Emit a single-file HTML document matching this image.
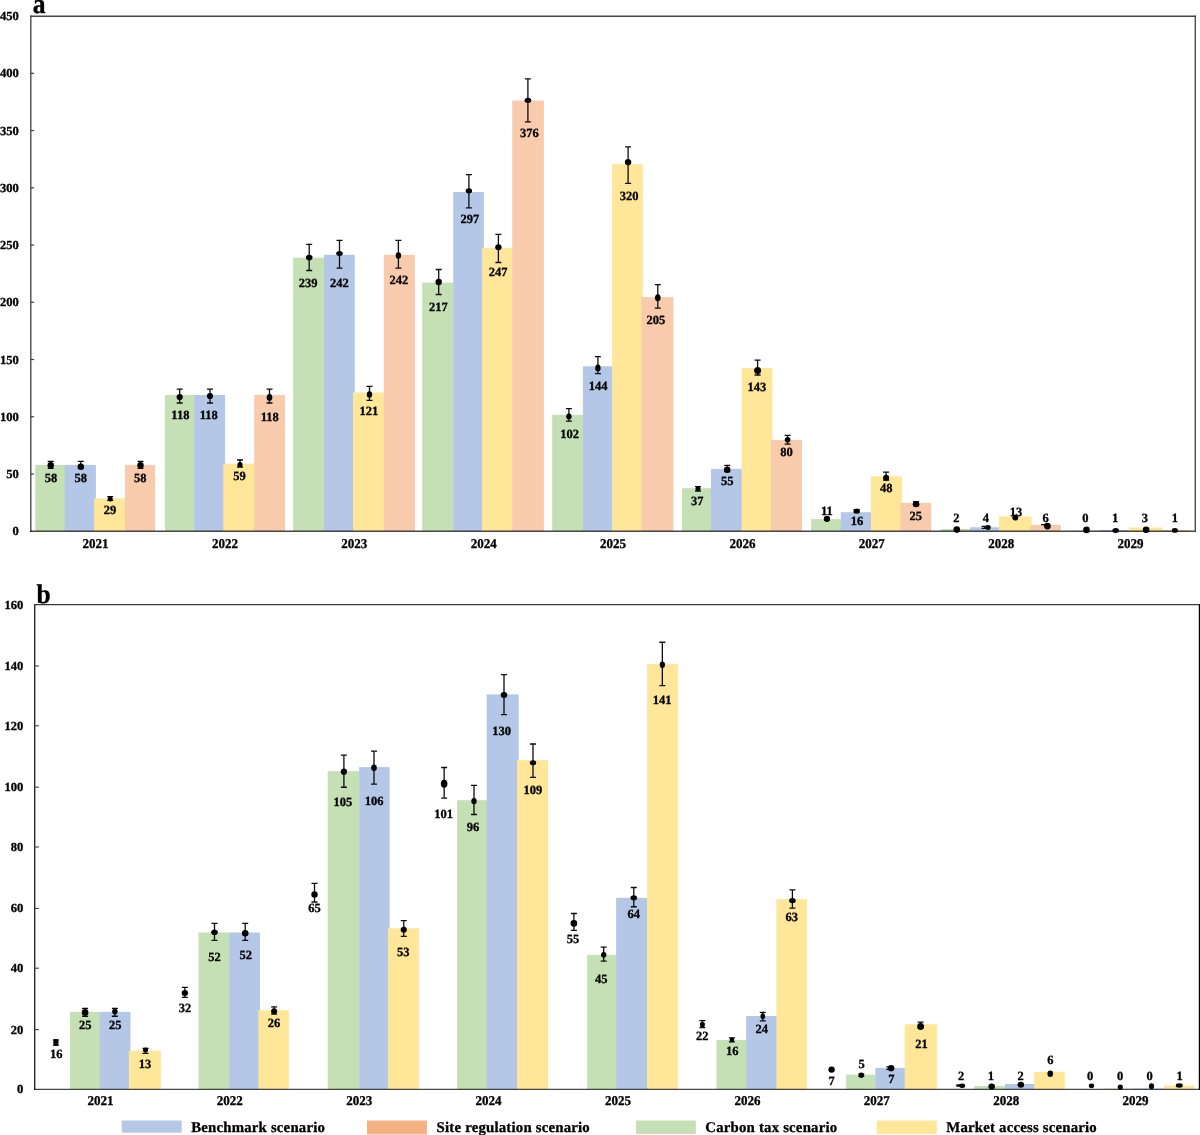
<!DOCTYPE html>
<html><head><meta charset="utf-8"><title>chart</title>
<style>
html,body{margin:0;padding:0;background:#fff;}
body{width:1200px;height:1135px;overflow:hidden;font-family:"Liberation Serif",serif;}
svg{display:block;will-change:transform;}
svg text{text-rendering:geometricPrecision;}
</style></head><body>
<svg width="1200" height="1135" viewBox="0 0 1200 1135" font-family="'Liberation Serif', serif" font-weight="bold" fill="#000" stroke="#000" stroke-width="0.3" stroke-linejoin="round">
<rect width="1200" height="1135" fill="#fff" stroke="none"/>
<rect x="35.30" y="464.90" width="29.70" height="66.10" fill="#C5E0B4" stroke="none"/>
<rect x="64.70" y="464.90" width="31.20" height="66.10" fill="#B4C7E7" stroke="none"/>
<rect x="94.10" y="498.40" width="32.40" height="32.60" fill="#FFE699" stroke="none"/>
<rect x="125.00" y="464.90" width="30.10" height="66.10" fill="#F8CBAD" stroke="none"/>
<rect x="165.00" y="395.00" width="29.50" height="136.00" fill="#C5E0B4" stroke="none"/>
<rect x="194.20" y="395.00" width="30.90" height="136.00" fill="#B4C7E7" stroke="none"/>
<rect x="223.30" y="463.70" width="32.40" height="67.30" fill="#FFE699" stroke="none"/>
<rect x="254.20" y="395.00" width="30.80" height="136.00" fill="#F8CBAD" stroke="none"/>
<rect x="293.10" y="257.70" width="31.20" height="273.30" fill="#C5E0B4" stroke="none"/>
<rect x="324.00" y="254.80" width="30.80" height="276.20" fill="#B4C7E7" stroke="none"/>
<rect x="353.00" y="392.50" width="32.30" height="138.50" fill="#FFE699" stroke="none"/>
<rect x="383.80" y="254.80" width="31.10" height="276.20" fill="#F8CBAD" stroke="none"/>
<rect x="422.20" y="282.60" width="31.30" height="248.40" fill="#C5E0B4" stroke="none"/>
<rect x="453.20" y="192.00" width="30.70" height="339.00" fill="#B4C7E7" stroke="none"/>
<rect x="482.10" y="247.90" width="31.60" height="283.10" fill="#FFE699" stroke="none"/>
<rect x="512.20" y="100.60" width="31.70" height="430.40" fill="#F8CBAD" stroke="none"/>
<rect x="552.20" y="414.80" width="31.00" height="116.20" fill="#C5E0B4" stroke="none"/>
<rect x="582.90" y="366.30" width="31.00" height="164.70" fill="#B4C7E7" stroke="none"/>
<rect x="612.10" y="164.20" width="30.70" height="366.80" fill="#FFE699" stroke="none"/>
<rect x="641.30" y="297.10" width="32.10" height="233.90" fill="#F8CBAD" stroke="none"/>
<rect x="682.00" y="488.20" width="29.20" height="42.80" fill="#C5E0B4" stroke="none"/>
<rect x="710.90" y="468.90" width="32.50" height="62.10" fill="#B4C7E7" stroke="none"/>
<rect x="741.60" y="368.00" width="30.80" height="163.00" fill="#FFE699" stroke="none"/>
<rect x="770.90" y="440.00" width="31.00" height="91.00" fill="#F8CBAD" stroke="none"/>
<rect x="811.10" y="519.10" width="30.00" height="11.90" fill="#C5E0B4" stroke="none"/>
<rect x="840.80" y="512.20" width="31.90" height="18.80" fill="#B4C7E7" stroke="none"/>
<rect x="870.90" y="476.25" width="31.00" height="54.75" fill="#FFE699" stroke="none"/>
<rect x="900.40" y="502.85" width="30.80" height="28.15" fill="#F8CBAD" stroke="none"/>
<rect x="941.10" y="529.00" width="29.20" height="2.00" fill="#C5E0B4" stroke="none"/>
<rect x="970.00" y="527.25" width="30.70" height="3.75" fill="#B4C7E7" stroke="none"/>
<rect x="998.90" y="516.50" width="32.70" height="14.50" fill="#FFE699" stroke="none"/>
<rect x="1030.10" y="524.90" width="30.70" height="6.10" fill="#F8CBAD" stroke="none"/>
<rect x="1070.40" y="530.60" width="29.00" height="0.40" fill="#C5E0B4" stroke="none"/>
<rect x="1099.10" y="530.00" width="31.50" height="1.00" fill="#B4C7E7" stroke="none"/>
<rect x="1128.80" y="527.50" width="33.60" height="3.50" fill="#FFE699" stroke="none"/>
<rect x="1160.90" y="530.00" width="29.50" height="1.00" fill="#F8CBAD" stroke="none"/>
<path d="M30.8 15.6V532" stroke="#4c4c4c" stroke-width="1.4" fill="none"/>
<path d="M30.1 531.3H1196" stroke="#000" stroke-opacity="0.72" stroke-width="1.4" fill="none"/>
<path d="M30.1 16.3H1196" stroke="#464646" stroke-width="1.4" fill="none"/>
<path d="M1195.3 15.6V532" stroke="#4c4c4c" stroke-width="1.4" fill="none"/>
<text transform="translate(18.90 535.24) scale(1 0.98)" font-size="12.6" text-anchor="end">0</text>
<path d="M30.9 474.00h3.2" stroke="#3a3a3a" stroke-width="1.15"/>
<text transform="translate(18.90 478.00) scale(1 0.98)" font-size="12.6" text-anchor="end">50</text>
<path d="M30.9 416.75h3.2" stroke="#3a3a3a" stroke-width="1.15"/>
<text transform="translate(18.90 420.75) scale(1 0.98)" font-size="12.6" text-anchor="end">100</text>
<path d="M30.9 359.51h3.2" stroke="#3a3a3a" stroke-width="1.15"/>
<text transform="translate(18.90 363.51) scale(1 0.98)" font-size="12.6" text-anchor="end">150</text>
<path d="M30.9 302.27h3.2" stroke="#3a3a3a" stroke-width="1.15"/>
<text transform="translate(18.90 306.27) scale(1 0.98)" font-size="12.6" text-anchor="end">200</text>
<path d="M30.9 245.02h3.2" stroke="#3a3a3a" stroke-width="1.15"/>
<text transform="translate(18.90 249.02) scale(1 0.98)" font-size="12.6" text-anchor="end">250</text>
<path d="M30.9 187.78h3.2" stroke="#3a3a3a" stroke-width="1.15"/>
<text transform="translate(18.90 191.78) scale(1 0.98)" font-size="12.6" text-anchor="end">300</text>
<path d="M30.9 130.54h3.2" stroke="#3a3a3a" stroke-width="1.15"/>
<text transform="translate(18.90 134.54) scale(1 0.98)" font-size="12.6" text-anchor="end">350</text>
<path d="M30.9 73.30h3.2" stroke="#3a3a3a" stroke-width="1.15"/>
<text transform="translate(18.90 77.30) scale(1 0.98)" font-size="12.6" text-anchor="end">400</text>
<text transform="translate(18.90 20.05) scale(1 0.98)" font-size="12.6" text-anchor="end">450</text>
<text transform="translate(95.58 547.50) scale(1 1.035)" font-size="13.0" text-anchor="middle">2021</text>
<text transform="translate(224.95 547.50) scale(1 1.035)" font-size="13.0" text-anchor="middle">2022</text>
<text transform="translate(354.32 547.50) scale(1 1.035)" font-size="13.0" text-anchor="middle">2023</text>
<text transform="translate(483.68 547.50) scale(1 1.035)" font-size="13.0" text-anchor="middle">2024</text>
<text transform="translate(613.05 547.50) scale(1 1.035)" font-size="13.0" text-anchor="middle">2025</text>
<text transform="translate(742.42 547.50) scale(1 1.035)" font-size="13.0" text-anchor="middle">2026</text>
<text transform="translate(871.78 547.50) scale(1 1.035)" font-size="13.0" text-anchor="middle">2027</text>
<text transform="translate(1001.15 547.50) scale(1 1.035)" font-size="13.0" text-anchor="middle">2028</text>
<text transform="translate(1130.52 547.50) scale(1 1.035)" font-size="13.0" text-anchor="middle">2029</text>
<path d="M50.70 461.30V468.30M47.70 461.30H53.70M47.70 468.30H53.70" stroke="#0d0d0d" stroke-width="1.3" fill="none"/>
<path d="M80.80 461.30V468.30M77.80 461.30H83.80M77.80 468.30H83.80" stroke="#0d0d0d" stroke-width="1.3" fill="none"/>
<path d="M110.20 496.70V500.40M107.20 496.70H113.20M107.20 500.40H113.20" stroke="#0d0d0d" stroke-width="1.3" fill="none"/>
<path d="M140.50 461.30V468.30M137.50 461.30H143.50M137.50 468.30H143.50" stroke="#0d0d0d" stroke-width="1.3" fill="none"/>
<path d="M179.70 389.20V403.00M176.70 389.20H182.70M176.70 403.00H182.70" stroke="#0d0d0d" stroke-width="1.3" fill="none"/>
<path d="M210.00 389.20V403.00M207.00 389.20H213.00M207.00 403.00H213.00" stroke="#0d0d0d" stroke-width="1.3" fill="none"/>
<path d="M240.00 460.00V467.00M237.00 460.00H243.00M237.00 467.00H243.00" stroke="#0d0d0d" stroke-width="1.3" fill="none"/>
<path d="M269.50 389.20V403.00M266.50 389.20H272.50M266.50 403.00H272.50" stroke="#0d0d0d" stroke-width="1.3" fill="none"/>
<path d="M309.20 244.30V270.50M306.20 244.30H312.20M306.20 270.50H312.20" stroke="#0d0d0d" stroke-width="1.3" fill="none"/>
<path d="M339.50 240.40V268.10M336.50 240.40H342.50M336.50 268.10H342.50" stroke="#0d0d0d" stroke-width="1.3" fill="none"/>
<path d="M369.50 386.30V400.30M366.50 386.30H372.50M366.50 400.30H372.50" stroke="#0d0d0d" stroke-width="1.3" fill="none"/>
<path d="M398.40 240.40V268.10M395.40 240.40H401.40M395.40 268.10H401.40" stroke="#0d0d0d" stroke-width="1.3" fill="none"/>
<path d="M438.70 269.50V294.50M435.70 269.50H441.70M435.70 294.50H441.70" stroke="#0d0d0d" stroke-width="1.3" fill="none"/>
<path d="M468.90 174.70V207.90M465.90 174.70H471.90M465.90 207.90H471.90" stroke="#0d0d0d" stroke-width="1.3" fill="none"/>
<path d="M498.40 234.40V262.50M495.40 234.40H501.40M495.40 262.50H501.40" stroke="#0d0d0d" stroke-width="1.3" fill="none"/>
<path d="M527.90 78.80V121.90M524.90 78.80H530.90M524.90 121.90H530.90" stroke="#0d0d0d" stroke-width="1.3" fill="none"/>
<path d="M568.90 408.60V421.10M565.90 408.60H571.90M565.90 421.10H571.90" stroke="#0d0d0d" stroke-width="1.3" fill="none"/>
<path d="M597.90 356.70V373.60M594.90 356.70H600.90M594.90 373.60H600.90" stroke="#0d0d0d" stroke-width="1.3" fill="none"/>
<path d="M628.10 146.90V183.40M625.10 146.90H631.10M625.10 183.40H631.10" stroke="#0d0d0d" stroke-width="1.3" fill="none"/>
<path d="M657.80 284.60V308.20M654.80 284.60H660.80M654.80 308.20H660.80" stroke="#0d0d0d" stroke-width="1.3" fill="none"/>
<path d="M698.00 486.70V491.00M695.00 486.70H701.00M695.00 491.00H701.00" stroke="#0d0d0d" stroke-width="1.3" fill="none"/>
<path d="M727.20 465.40V471.50M724.20 465.40H730.20M724.20 471.50H730.20" stroke="#0d0d0d" stroke-width="1.3" fill="none"/>
<path d="M757.60 360.10V375.00M754.60 360.10H760.60M754.60 375.00H760.60" stroke="#0d0d0d" stroke-width="1.3" fill="none"/>
<path d="M787.60 435.30V444.20M784.60 435.30H790.60M784.60 444.20H790.60" stroke="#0d0d0d" stroke-width="1.3" fill="none"/>
<path d="M826.90 517.60V520.00M823.90 517.60H829.90M823.90 520.00H829.90" stroke="#0d0d0d" stroke-width="1.3" fill="none"/>
<path d="M856.70 509.60V512.60M853.70 509.60H859.70M853.70 512.60H859.70" stroke="#0d0d0d" stroke-width="1.3" fill="none"/>
<path d="M886.10 472.20V480.00M883.10 472.20H889.10M883.10 480.00H889.10" stroke="#0d0d0d" stroke-width="1.3" fill="none"/>
<path d="M916.10 501.70V505.50M913.10 501.70H919.10M913.10 505.50H919.10" stroke="#0d0d0d" stroke-width="1.3" fill="none"/>
<path d="M984.60 526.40V528.30M981.60 526.40H987.60M981.60 528.30H987.60" stroke="#0d0d0d" stroke-width="1.3" fill="none"/>
<path d="M1044.00 524.70V524.70M1041.00 524.70H1047.00M1041.00 524.70H1047.00" stroke="#0d0d0d" stroke-width="1.3" fill="none"/>
<ellipse cx="50.70" cy="465.20" rx="3.2" ry="3.2" fill="#000" stroke="none"/>
<ellipse cx="80.80" cy="466.70" rx="3.2" ry="3.2" fill="#000" stroke="none"/>
<ellipse cx="110.20" cy="499.00" rx="2.5" ry="2.5" fill="#000" stroke="none"/>
<ellipse cx="140.50" cy="465.20" rx="3.2" ry="3.2" fill="#000" stroke="none"/>
<ellipse cx="179.70" cy="397.00" rx="3.1" ry="3.1" fill="#000" stroke="none"/>
<ellipse cx="210.00" cy="396.00" rx="3.1" ry="3.1" fill="#000" stroke="none"/>
<ellipse cx="240.00" cy="464.50" rx="2.6" ry="2.6" fill="#000" stroke="none"/>
<ellipse cx="269.50" cy="397.50" rx="2.8" ry="3.4" fill="#000" stroke="none"/>
<ellipse cx="309.20" cy="257.60" rx="3.3" ry="2.8" fill="#000" stroke="none"/>
<ellipse cx="339.50" cy="253.50" rx="3.3" ry="2.5" fill="#000" stroke="none"/>
<ellipse cx="369.50" cy="394.50" rx="2.7" ry="3.3" fill="#000" stroke="none"/>
<ellipse cx="398.40" cy="255.60" rx="2.7" ry="3.3" fill="#000" stroke="none"/>
<ellipse cx="438.70" cy="282.00" rx="3.2" ry="3.2" fill="#000" stroke="none"/>
<ellipse cx="468.90" cy="190.80" rx="3.2" ry="2.6" fill="#000" stroke="none"/>
<ellipse cx="498.40" cy="247.20" rx="3.2" ry="3.0" fill="#000" stroke="none"/>
<ellipse cx="527.90" cy="100.30" rx="3.3" ry="2.6" fill="#000" stroke="none"/>
<ellipse cx="568.90" cy="416.50" rx="2.7" ry="2.9" fill="#000" stroke="none"/>
<ellipse cx="597.90" cy="368.00" rx="2.7" ry="3.6" fill="#000" stroke="none"/>
<ellipse cx="628.10" cy="162.10" rx="3.2" ry="3.2" fill="#000" stroke="none"/>
<ellipse cx="657.80" cy="297.70" rx="2.8" ry="3.5" fill="#000" stroke="none"/>
<ellipse cx="698.00" cy="488.80" rx="2.6" ry="2.2" fill="#000" stroke="none"/>
<ellipse cx="727.20" cy="469.75" rx="3.2" ry="3.2" fill="#000" stroke="none"/>
<ellipse cx="757.60" cy="370.60" rx="3.5" ry="3.5" fill="#000" stroke="none"/>
<ellipse cx="787.60" cy="439.80" rx="2.8" ry="2.8" fill="#000" stroke="none"/>
<ellipse cx="826.90" cy="518.80" rx="3.1" ry="3.1" fill="#000" stroke="none"/>
<ellipse cx="856.70" cy="511.00" rx="3.2" ry="2.6" fill="#000" stroke="none"/>
<ellipse cx="886.10" cy="477.65" rx="3.0" ry="3.0" fill="#000" stroke="none"/>
<ellipse cx="916.10" cy="504.25" rx="3.3" ry="3.0" fill="#000" stroke="none"/>
<ellipse cx="956.80" cy="529.60" rx="3.3" ry="3.3" fill="#000" stroke="none"/>
<ellipse cx="988.10" cy="527.50" rx="2.6" ry="2.4" fill="#000" stroke="none"/>
<ellipse cx="1015.30" cy="517.60" rx="3.0" ry="3.0" fill="#000" stroke="none"/>
<ellipse cx="1047.40" cy="526.10" rx="3.4" ry="3.4" fill="#000" stroke="none"/>
<ellipse cx="1086.50" cy="529.90" rx="3.3" ry="3.3" fill="#000" stroke="none"/>
<ellipse cx="1115.70" cy="530.50" rx="3.3" ry="2.5" fill="#000" stroke="none"/>
<ellipse cx="1146.10" cy="529.80" rx="3.3" ry="3.3" fill="#000" stroke="none"/>
<ellipse cx="1174.90" cy="530.40" rx="3.0" ry="2.3" fill="#000" stroke="none"/>
<text transform="translate(50.90 482.20) scale(1 1.0)" font-size="12.5" text-anchor="middle">58</text>
<text transform="translate(80.80 482.20) scale(1 1.0)" font-size="12.5" text-anchor="middle">58</text>
<text transform="translate(110.00 514.00) scale(1 1.0)" font-size="12.5" text-anchor="middle">29</text>
<text transform="translate(140.30 482.20) scale(1 1.0)" font-size="12.5" text-anchor="middle">58</text>
<text transform="translate(180.40 419.20) scale(1 1.0)" font-size="12.5" text-anchor="middle">118</text>
<text transform="translate(208.80 419.20) scale(1 1.0)" font-size="12.5" text-anchor="middle">118</text>
<text transform="translate(239.50 479.60) scale(1 1.0)" font-size="12.5" text-anchor="middle">59</text>
<text transform="translate(269.80 420.80) scale(1 1.0)" font-size="12.5" text-anchor="middle">118</text>
<text transform="translate(308.00 287.20) scale(1 1.0)" font-size="12.5" text-anchor="middle">239</text>
<text transform="translate(339.40 287.20) scale(1 1.0)" font-size="12.5" text-anchor="middle">242</text>
<text transform="translate(368.80 415.20) scale(1 1.0)" font-size="12.5" text-anchor="middle">121</text>
<text transform="translate(398.80 283.70) scale(1 1.0)" font-size="12.5" text-anchor="middle">242</text>
<text transform="translate(438.30 310.90) scale(1 1.0)" font-size="12.5" text-anchor="middle">217</text>
<text transform="translate(469.80 223.40) scale(1 1.0)" font-size="12.5" text-anchor="middle">297</text>
<text transform="translate(498.10 276.30) scale(1 1.0)" font-size="12.5" text-anchor="middle">247</text>
<text transform="translate(529.30 137.00) scale(1 1.0)" font-size="12.5" text-anchor="middle">376</text>
<text transform="translate(569.70 437.60) scale(1 1.0)" font-size="12.5" text-anchor="middle">102</text>
<text transform="translate(598.00 390.10) scale(1 1.0)" font-size="12.5" text-anchor="middle">144</text>
<text transform="translate(629.00 199.80) scale(1 1.0)" font-size="12.5" text-anchor="middle">320</text>
<text transform="translate(655.80 323.50) scale(1 1.0)" font-size="12.5" text-anchor="middle">205</text>
<text transform="translate(697.20 504.60) scale(1 1.0)" font-size="12.5" text-anchor="middle">37</text>
<text transform="translate(727.20 484.80) scale(1 1.0)" font-size="12.5" text-anchor="middle">55</text>
<text transform="translate(756.90 391.40) scale(1 1.0)" font-size="12.5" text-anchor="middle">143</text>
<text transform="translate(786.40 455.60) scale(1 1.0)" font-size="12.5" text-anchor="middle">80</text>
<text transform="translate(826.90 515.40) scale(1 1.0)" font-size="12.5" text-anchor="middle">11</text>
<text transform="translate(856.90 525.10) scale(1 1.0)" font-size="12.5" text-anchor="middle">16</text>
<text transform="translate(886.30 491.50) scale(1 1.0)" font-size="12.5" text-anchor="middle">48</text>
<text transform="translate(915.80 519.90) scale(1 1.0)" font-size="12.5" text-anchor="middle">25</text>
<text transform="translate(956.40 521.90) scale(1 1.0)" font-size="12.5" text-anchor="middle">2</text>
<text transform="translate(985.75 521.90) scale(1 1.0)" font-size="12.5" text-anchor="middle">4</text>
<text transform="translate(1016.10 515.50) scale(1 1.0)" font-size="12.5" text-anchor="middle">13</text>
<text transform="translate(1045.60 522.10) scale(1 1.0)" font-size="12.5" text-anchor="middle">6</text>
<text transform="translate(1085.40 522.10) scale(1 1.0)" font-size="12.5" text-anchor="middle">0</text>
<text transform="translate(1115.10 522.10) scale(1 1.0)" font-size="12.5" text-anchor="middle">1</text>
<text transform="translate(1144.80 522.10) scale(1 1.0)" font-size="12.5" text-anchor="middle">3</text>
<text transform="translate(1174.90 522.10) scale(1 1.0)" font-size="12.5" text-anchor="middle">1</text>
<text transform="translate(32.70 12.90) scale(1 1.08)" font-size="25.6" text-anchor="start">a</text>
<rect x="70.00" y="1011.90" width="29.95" height="77.30" fill="#C5E0B4" stroke="none"/>
<rect x="99.65" y="1011.90" width="30.85" height="77.30" fill="#B4C7E7" stroke="none"/>
<rect x="128.90" y="1050.70" width="32.00" height="38.50" fill="#FFE699" stroke="none"/>
<rect x="198.50" y="932.50" width="30.90" height="156.70" fill="#C5E0B4" stroke="none"/>
<rect x="229.10" y="932.50" width="30.90" height="156.70" fill="#B4C7E7" stroke="none"/>
<rect x="258.40" y="1010.30" width="30.50" height="78.90" fill="#FFE699" stroke="none"/>
<rect x="327.70" y="771.15" width="31.70" height="318.05" fill="#C5E0B4" stroke="none"/>
<rect x="359.10" y="767.10" width="30.50" height="322.10" fill="#B4C7E7" stroke="none"/>
<rect x="388.00" y="928.25" width="30.90" height="160.95" fill="#FFE699" stroke="none"/>
<rect x="457.10" y="800.20" width="29.90" height="289.00" fill="#C5E0B4" stroke="none"/>
<rect x="486.70" y="694.40" width="32.00" height="394.80" fill="#B4C7E7" stroke="none"/>
<rect x="517.10" y="760.10" width="31.00" height="329.10" fill="#FFE699" stroke="none"/>
<rect x="587.10" y="954.90" width="29.35" height="134.30" fill="#C5E0B4" stroke="none"/>
<rect x="616.15" y="897.80" width="32.55" height="191.40" fill="#B4C7E7" stroke="none"/>
<rect x="647.10" y="664.10" width="30.90" height="425.10" fill="#FFE699" stroke="none"/>
<rect x="716.40" y="1039.90" width="30.05" height="49.30" fill="#C5E0B4" stroke="none"/>
<rect x="746.15" y="1016.00" width="31.85" height="73.20" fill="#B4C7E7" stroke="none"/>
<rect x="776.40" y="899.20" width="30.50" height="190.00" fill="#FFE699" stroke="none"/>
<rect x="846.20" y="1074.60" width="29.40" height="14.60" fill="#C5E0B4" stroke="none"/>
<rect x="875.30" y="1067.90" width="31.00" height="21.30" fill="#B4C7E7" stroke="none"/>
<rect x="904.70" y="1024.20" width="32.20" height="65.00" fill="#FFE699" stroke="none"/>
<rect x="974.20" y="1086.00" width="31.10" height="3.20" fill="#C5E0B4" stroke="none"/>
<rect x="1005.00" y="1084.00" width="30.75" height="5.20" fill="#B4C7E7" stroke="none"/>
<rect x="1034.15" y="1071.80" width="30.65" height="17.40" fill="#FFE699" stroke="none"/>
<rect x="1104.00" y="1088.60" width="30.30" height="0.60" fill="#C5E0B4" stroke="none"/>
<rect x="1134.00" y="1088.40" width="31.60" height="0.80" fill="#B4C7E7" stroke="none"/>
<rect x="1164.00" y="1085.70" width="30.50" height="3.50" fill="#FFE699" stroke="none"/>
<path d="M34.7 603.9V1090.1" stroke="#2a2a2a" stroke-width="1.4" fill="none"/>
<path d="M34 1089.4H1200" stroke="#000" stroke-opacity="0.72" stroke-width="1.4" fill="none"/>
<path d="M34 604.6H1200" stroke="#383838" stroke-width="1.4" fill="none"/>
<path d="M1199.5 603.9V1090.1" stroke="#000" stroke-width="1.4" fill="none"/>
<text transform="translate(23.40 1093.40) scale(1 0.98)" font-size="12.6" text-anchor="end">0</text>
<path d="M34.8 1029.60h4.2" stroke="#4a4a4a" stroke-width="1.15"/>
<text transform="translate(23.40 1033.60) scale(1 0.98)" font-size="12.6" text-anchor="end">20</text>
<path d="M34.8 968.20h4.2" stroke="#4a4a4a" stroke-width="1.15"/>
<text transform="translate(23.40 972.20) scale(1 0.98)" font-size="12.6" text-anchor="end">40</text>
<path d="M34.8 908.40h4.2" stroke="#4a4a4a" stroke-width="1.15"/>
<text transform="translate(23.40 912.40) scale(1 0.98)" font-size="12.6" text-anchor="end">60</text>
<path d="M34.8 847.00h4.2" stroke="#4a4a4a" stroke-width="1.15"/>
<text transform="translate(23.40 851.00) scale(1 0.98)" font-size="12.6" text-anchor="end">80</text>
<path d="M34.8 787.20h4.2" stroke="#4a4a4a" stroke-width="1.15"/>
<text transform="translate(23.40 791.20) scale(1 0.98)" font-size="12.6" text-anchor="end">100</text>
<path d="M34.8 725.80h4.2" stroke="#4a4a4a" stroke-width="1.15"/>
<text transform="translate(23.40 729.80) scale(1 0.98)" font-size="12.6" text-anchor="end">120</text>
<path d="M34.8 666.00h4.2" stroke="#4a4a4a" stroke-width="1.15"/>
<text transform="translate(23.40 670.00) scale(1 0.98)" font-size="12.6" text-anchor="end">140</text>
<text transform="translate(23.40 608.60) scale(1 0.98)" font-size="12.6" text-anchor="end">160</text>
<text transform="translate(100.49 1105.10) scale(1 1.035)" font-size="13.0" text-anchor="middle">2021</text>
<text transform="translate(229.87 1105.10) scale(1 1.035)" font-size="13.0" text-anchor="middle">2022</text>
<text transform="translate(359.24 1105.10) scale(1 1.035)" font-size="13.0" text-anchor="middle">2023</text>
<text transform="translate(488.62 1105.10) scale(1 1.035)" font-size="13.0" text-anchor="middle">2024</text>
<text transform="translate(618.00 1105.10) scale(1 1.035)" font-size="13.0" text-anchor="middle">2025</text>
<text transform="translate(747.38 1105.10) scale(1 1.035)" font-size="13.0" text-anchor="middle">2026</text>
<text transform="translate(876.76 1105.10) scale(1 1.035)" font-size="13.0" text-anchor="middle">2027</text>
<text transform="translate(1006.13 1105.10) scale(1 1.035)" font-size="13.0" text-anchor="middle">2028</text>
<text transform="translate(1135.51 1105.10) scale(1 1.035)" font-size="13.0" text-anchor="middle">2029</text>
<path d="M55.90 1040.00V1045.20M52.90 1040.00H58.90M52.90 1045.20H58.90" stroke="#0d0d0d" stroke-width="1.3" fill="none"/>
<path d="M85.10 1008.40V1016.25M82.10 1008.40H88.10M82.10 1016.25H88.10" stroke="#0d0d0d" stroke-width="1.3" fill="none"/>
<path d="M114.90 1008.40V1016.25M111.90 1008.40H117.90M111.90 1016.25H117.90" stroke="#0d0d0d" stroke-width="1.3" fill="none"/>
<path d="M145.50 1048.30V1053.40M142.50 1048.30H148.50M142.50 1053.40H148.50" stroke="#0d0d0d" stroke-width="1.3" fill="none"/>
<path d="M184.85 987.40V997.30M181.85 987.40H187.85M181.85 997.30H187.85" stroke="#0d0d0d" stroke-width="1.3" fill="none"/>
<path d="M214.50 923.40V940.30M211.50 923.40H217.50M211.50 940.30H217.50" stroke="#0d0d0d" stroke-width="1.3" fill="none"/>
<path d="M245.20 923.40V940.30M242.20 923.40H248.20M242.20 940.30H248.20" stroke="#0d0d0d" stroke-width="1.3" fill="none"/>
<path d="M274.10 1006.80V1014.20M271.10 1006.80H277.10M271.10 1014.20H277.10" stroke="#0d0d0d" stroke-width="1.3" fill="none"/>
<path d="M314.50 883.30V902.00M311.50 883.30H317.50M311.50 902.00H317.50" stroke="#0d0d0d" stroke-width="1.3" fill="none"/>
<path d="M343.90 755.20V787.25M340.90 755.20H346.90M340.90 787.25H346.90" stroke="#0d0d0d" stroke-width="1.3" fill="none"/>
<path d="M374.00 751.10V784.10M371.00 751.10H377.00M371.00 784.10H377.00" stroke="#0d0d0d" stroke-width="1.3" fill="none"/>
<path d="M403.75 920.70V936.40M400.75 920.70H406.75M400.75 936.40H406.75" stroke="#0d0d0d" stroke-width="1.3" fill="none"/>
<path d="M444.15 767.50V798.20M441.15 767.50H447.15M441.15 798.20H447.15" stroke="#0d0d0d" stroke-width="1.3" fill="none"/>
<path d="M474.00 785.35V814.50M471.00 785.35H477.00M471.00 814.50H477.00" stroke="#0d0d0d" stroke-width="1.3" fill="none"/>
<path d="M504.00 674.60V714.60M501.00 674.60H507.00M501.00 714.60H507.00" stroke="#0d0d0d" stroke-width="1.3" fill="none"/>
<path d="M533.00 744.00V777.30M530.00 744.00H536.00M530.00 777.30H536.00" stroke="#0d0d0d" stroke-width="1.3" fill="none"/>
<path d="M573.90 913.50V930.30M570.90 913.50H576.90M570.90 930.30H576.90" stroke="#0d0d0d" stroke-width="1.3" fill="none"/>
<path d="M603.70 947.20V961.20M600.70 947.20H606.70M600.70 961.20H606.70" stroke="#0d0d0d" stroke-width="1.3" fill="none"/>
<path d="M633.80 887.50V906.75M630.80 887.50H636.80M630.80 906.75H636.80" stroke="#0d0d0d" stroke-width="1.3" fill="none"/>
<path d="M662.35 642.25V685.65M659.35 642.25H665.35M659.35 685.65H665.35" stroke="#0d0d0d" stroke-width="1.3" fill="none"/>
<path d="M702.40 1020.70V1027.60M699.40 1020.70H705.40M699.40 1027.60H705.40" stroke="#0d0d0d" stroke-width="1.3" fill="none"/>
<path d="M731.90 1037.80V1041.90M728.90 1037.80H734.90M728.90 1041.90H734.90" stroke="#0d0d0d" stroke-width="1.3" fill="none"/>
<path d="M762.80 1012.40V1020.90M759.80 1012.40H765.80M759.80 1020.90H765.80" stroke="#0d0d0d" stroke-width="1.3" fill="none"/>
<path d="M792.40 889.80V908.15M789.40 889.80H795.40M789.40 908.15H795.40" stroke="#0d0d0d" stroke-width="1.3" fill="none"/>
<path d="M861.30 1074.20V1076.40M858.30 1074.20H864.30M858.30 1076.40H864.30" stroke="#0d0d0d" stroke-width="1.3" fill="none"/>
<path d="M889.30 1066.80V1069.40M886.30 1066.80H892.30M886.30 1069.40H892.30" stroke="#0d0d0d" stroke-width="1.3" fill="none"/>
<path d="M920.60 1022.10V1028.00M917.60 1022.10H923.60M917.60 1028.00H923.60" stroke="#0d0d0d" stroke-width="1.3" fill="none"/>
<path d="M959.30 1085.00V1086.20M956.30 1085.00H962.30M956.30 1086.20H962.30" stroke="#0d0d0d" stroke-width="1.3" fill="none"/>
<ellipse cx="55.90" cy="1042.50" rx="2.6" ry="3.5" fill="#000" stroke="none"/>
<ellipse cx="85.10" cy="1012.40" rx="3.3" ry="3.3" fill="#000" stroke="none"/>
<ellipse cx="114.90" cy="1011.60" rx="2.8" ry="2.8" fill="#000" stroke="none"/>
<ellipse cx="145.50" cy="1049.90" rx="2.5" ry="2.5" fill="#000" stroke="none"/>
<ellipse cx="184.85" cy="993.10" rx="3.2" ry="3.0" fill="#000" stroke="none"/>
<ellipse cx="214.50" cy="932.20" rx="3.3" ry="2.8" fill="#000" stroke="none"/>
<ellipse cx="245.20" cy="933.30" rx="3.3" ry="3.3" fill="#000" stroke="none"/>
<ellipse cx="274.10" cy="1011.30" rx="3.0" ry="3.0" fill="#000" stroke="none"/>
<ellipse cx="314.50" cy="894.40" rx="3.2" ry="3.2" fill="#000" stroke="none"/>
<ellipse cx="343.90" cy="771.70" rx="3.1" ry="3.1" fill="#000" stroke="none"/>
<ellipse cx="374.00" cy="767.80" rx="2.8" ry="3.3" fill="#000" stroke="none"/>
<ellipse cx="403.75" cy="929.65" rx="3.1" ry="2.9" fill="#000" stroke="none"/>
<ellipse cx="444.15" cy="783.80" rx="3.3" ry="4.0" fill="#000" stroke="none"/>
<ellipse cx="474.00" cy="801.10" rx="2.7" ry="3.2" fill="#000" stroke="none"/>
<ellipse cx="504.00" cy="695.00" rx="3.3" ry="3.0" fill="#000" stroke="none"/>
<ellipse cx="533.00" cy="762.65" rx="3.2" ry="2.5" fill="#000" stroke="none"/>
<ellipse cx="573.90" cy="923.40" rx="3.3" ry="3.3" fill="#000" stroke="none"/>
<ellipse cx="603.70" cy="954.80" rx="2.7" ry="2.9" fill="#000" stroke="none"/>
<ellipse cx="633.80" cy="897.80" rx="3.3" ry="2.6" fill="#000" stroke="none"/>
<ellipse cx="662.35" cy="664.80" rx="2.6" ry="3.3" fill="#000" stroke="none"/>
<ellipse cx="702.40" cy="1024.65" rx="2.5" ry="2.8" fill="#000" stroke="none"/>
<ellipse cx="731.90" cy="1039.90" rx="2.3" ry="2.3" fill="#000" stroke="none"/>
<ellipse cx="762.80" cy="1016.25" rx="2.3" ry="3.0" fill="#000" stroke="none"/>
<ellipse cx="792.40" cy="900.60" rx="3.3" ry="2.6" fill="#000" stroke="none"/>
<ellipse cx="831.60" cy="1069.60" rx="3.2" ry="3.2" fill="#000" stroke="none"/>
<ellipse cx="861.30" cy="1075.20" rx="2.6" ry="2.8" fill="#000" stroke="none"/>
<ellipse cx="891.10" cy="1068.20" rx="3.3" ry="3.1" fill="#000" stroke="none"/>
<ellipse cx="920.60" cy="1026.50" rx="3.4" ry="3.4" fill="#000" stroke="none"/>
<ellipse cx="962.20" cy="1085.80" rx="3.0" ry="2.2" fill="#000" stroke="none"/>
<ellipse cx="991.70" cy="1086.60" rx="3.3" ry="3.1" fill="#000" stroke="none"/>
<ellipse cx="1020.85" cy="1084.80" rx="3.3" ry="3.0" fill="#000" stroke="none"/>
<ellipse cx="1050.25" cy="1073.75" rx="2.8" ry="3.3" fill="#000" stroke="none"/>
<ellipse cx="1091.50" cy="1085.80" rx="2.7" ry="2.4" fill="#000" stroke="none"/>
<ellipse cx="1120.30" cy="1087.00" rx="2.6" ry="2.6" fill="#000" stroke="none"/>
<ellipse cx="1151.50" cy="1086.20" rx="2.6" ry="3.0" fill="#000" stroke="none"/>
<ellipse cx="1179.30" cy="1085.50" rx="3.5" ry="2.2" fill="#000" stroke="none"/>
<text transform="translate(56.25 1058.10) scale(1 1.0)" font-size="12.5" text-anchor="middle">16</text>
<text transform="translate(85.20 1028.95) scale(1 1.0)" font-size="12.5" text-anchor="middle">25</text>
<text transform="translate(115.20 1028.95) scale(1 1.0)" font-size="12.5" text-anchor="middle">25</text>
<text transform="translate(144.90 1067.70) scale(1 1.0)" font-size="12.5" text-anchor="middle">13</text>
<text transform="translate(185.10 1012.00) scale(1 1.0)" font-size="12.5" text-anchor="middle">32</text>
<text transform="translate(214.50 960.85) scale(1 1.0)" font-size="12.5" text-anchor="middle">52</text>
<text transform="translate(245.75 959.10) scale(1 1.0)" font-size="12.5" text-anchor="middle">52</text>
<text transform="translate(274.10 1027.10) scale(1 1.0)" font-size="12.5" text-anchor="middle">26</text>
<text transform="translate(314.50 912.00) scale(1 1.0)" font-size="12.5" text-anchor="middle">65</text>
<text transform="translate(342.85 806.30) scale(1 1.0)" font-size="12.5" text-anchor="middle">105</text>
<text transform="translate(374.20 804.85) scale(1 1.0)" font-size="12.5" text-anchor="middle">106</text>
<text transform="translate(403.20 955.50) scale(1 1.0)" font-size="12.5" text-anchor="middle">53</text>
<text transform="translate(443.60 817.50) scale(1 1.0)" font-size="12.5" text-anchor="middle">101</text>
<text transform="translate(473.10 831.20) scale(1 1.0)" font-size="12.5" text-anchor="middle">96</text>
<text transform="translate(501.70 735.35) scale(1 1.0)" font-size="12.5" text-anchor="middle">130</text>
<text transform="translate(532.90 793.85) scale(1 1.0)" font-size="12.5" text-anchor="middle">109</text>
<text transform="translate(573.00 942.80) scale(1 1.0)" font-size="12.5" text-anchor="middle">55</text>
<text transform="translate(601.30 982.70) scale(1 1.0)" font-size="12.5" text-anchor="middle">45</text>
<text transform="translate(633.80 917.70) scale(1 1.0)" font-size="12.5" text-anchor="middle">64</text>
<text transform="translate(662.20 703.60) scale(1 1.0)" font-size="12.5" text-anchor="middle">141</text>
<text transform="translate(702.20 1040.00) scale(1 1.0)" font-size="12.5" text-anchor="middle">22</text>
<text transform="translate(732.30 1055.40) scale(1 1.0)" font-size="12.5" text-anchor="middle">16</text>
<text transform="translate(761.70 1033.30) scale(1 1.0)" font-size="12.5" text-anchor="middle">24</text>
<text transform="translate(791.70 921.40) scale(1 1.0)" font-size="12.5" text-anchor="middle">63</text>
<text transform="translate(831.60 1084.60) scale(1 1.0)" font-size="12.5" text-anchor="middle">7</text>
<text transform="translate(861.60 1067.70) scale(1 1.0)" font-size="12.5" text-anchor="middle">5</text>
<text transform="translate(891.30 1083.40) scale(1 1.0)" font-size="12.5" text-anchor="middle">7</text>
<text transform="translate(921.40 1048.40) scale(1 1.0)" font-size="12.5" text-anchor="middle">21</text>
<text transform="translate(961.00 1080.30) scale(1 1.0)" font-size="12.5" text-anchor="middle">2</text>
<text transform="translate(990.75 1080.30) scale(1 1.0)" font-size="12.5" text-anchor="middle">1</text>
<text transform="translate(1020.50 1080.30) scale(1 1.0)" font-size="12.5" text-anchor="middle">2</text>
<text transform="translate(1050.25 1063.90) scale(1 1.0)" font-size="12.5" text-anchor="middle">6</text>
<text transform="translate(1090.20 1080.10) scale(1 1.0)" font-size="12.5" text-anchor="middle">0</text>
<text transform="translate(1120.20 1080.10) scale(1 1.0)" font-size="12.5" text-anchor="middle">0</text>
<text transform="translate(1149.50 1080.10) scale(1 1.0)" font-size="12.5" text-anchor="middle">0</text>
<text transform="translate(1179.50 1080.10) scale(1 1.0)" font-size="12.5" text-anchor="middle">1</text>
<text transform="translate(36.60 603.00) scale(1 1.05)" font-size="25.6" text-anchor="start">b</text>
<rect x="121.70" y="1120.50" width="60.00" height="12.20" fill="#B4C7E7" stroke="none"/>
<text transform="translate(191.20 1131.90) scale(1 1.0)" font-size="14.8" text-anchor="start" letter-spacing="0.2">Benchmark scenario</text>
<rect x="367.00" y="1120.50" width="59.90" height="14.00" fill="#F4B183" stroke="none"/>
<text transform="translate(436.60 1131.90) scale(1 1.0)" font-size="14.8" text-anchor="start" letter-spacing="0.2">Site regulation scenario</text>
<rect x="636.00" y="1120.50" width="59.80" height="13.50" fill="#C5E0B4" stroke="none"/>
<text transform="translate(705.30 1131.90) scale(1 1.0)" font-size="14.8" text-anchor="start" letter-spacing="0.2">Carbon tax scenario</text>
<rect x="876.80" y="1120.50" width="60.00" height="13.50" fill="#FFE699" stroke="none"/>
<text transform="translate(946.30 1131.90) scale(1 1.0)" font-size="14.8" text-anchor="start" letter-spacing="0.2">Market access scenario</text>
</svg>
</body></html>
